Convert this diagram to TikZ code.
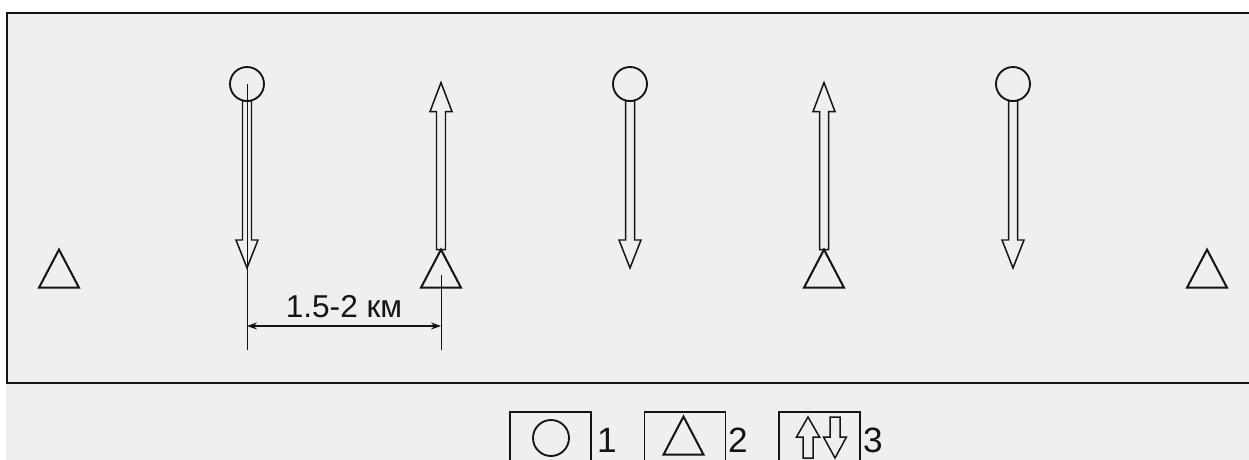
\documentclass[tikz,border=0pt]{standalone}
\usepackage{fontspec}
\setmainfont{Liberation Sans}
\usepackage{xcolor}
\usetikzlibrary{arrows.meta,positioning,shapes.geometric}
\definecolor{panel}{HTML}{EFEFEF}
\definecolor{ink}{HTML}{141414}
\tikzset{
    every picture/.style={line join=miter},
    frameline/.style={draw=ink,line width=1.2pt},
    wellhead/.style={draw=ink,circle,line width=1.05pt,
      minimum size=0.68cm,inner sep=0pt,outer sep=0pt},
    seismo/.style={draw=ink,regular polygon,regular polygon sides=3,
      line width=1.15pt,minimum size=0.924cm,inner sep=0pt,outer sep=0pt,yscale=1.1},
    hollow/.style={draw=ink,line width=0.85pt},
    legendbox/.style={draw=ink,line width=0.8pt,minimum width=1.62cm,
      minimum height=1.4cm,inner sep=0pt},
    dimline/.style={draw=ink,line width=0.55pt},
    dimarrow/.style={draw=ink,line width=0.65pt,
      {Stealth[length=2mm,width=1.4mm]}-{Stealth[length=2mm,width=1.4mm]}},
    dimlabel/.style={inner sep=0pt,text=ink,font=\fontsize{18}{21}\selectfont},
    legendnum/.style={inner sep=0pt,text=ink,font=\fontsize{20}{24}\selectfont},
    % hollow arrow: length / head length / head half width / shaft half width
    pics/hollowarrow/.style n args={4}{code={
      \draw[hollow] ({-#4},0) -- ({-#4},{#1-#2}) -- ({-#3},{#1-#2}) -- (0,#1)
        -- (#3,{#1-#2}) -- (#4,{#1-#2}) -- (#4,0) -- cycle;
    }}
}
\begin{document}
\begin{tikzpicture}[x=0.02cm,y=-0.02cm]
  \useasboundingbox (0,0) rectangle (1249,460);
  \clip (0,0) rectangle (1249,460);
  \fill[panel] (6,12) rectangle (1249,460);
  \draw[frameline] (1249,13) -- (7,13) -- (7,383) -- (1249,383);

  % wells with downward flow
  \foreach \i/\xx in {1/247,3/630,5/1013}{
    \node[wellhead] (w\i) at (\xx,84) {};
    \pic at (w\i.south) {hollowarrow={167}{28}{11}{4.5}};
  }
  % receivers with upward flow
  \foreach \i/\xx in {2/441,4/824}{
    \node[seismo] (s\i) at (\xx,275) {};
    \pic[rotate=180] at (s\i.north) {hollowarrow={167}{29}{11}{4.5}};
  }
  \node[seismo] (s0) at (59,275) {};
  \node[seismo] (s6) at (1207,275) {};

  % spacing
  \coordinate (e1) at (247,350);
  \coordinate (e2) at (441,350);
  \draw[dimline] (w1.center) -- (e1);
  \draw[dimline] (s2.center) -- (e2);
  \coordinate (a1) at (247,326);
  \coordinate (a2) at (441,326);
  \draw[dimarrow] (a1) -- node[dimlabel,above=0.16cm]{1.5-2 км} (a2);

  % legend
  \node[legendbox] (b1) at (550.5,447) {};
  \node[legendbox] (b2) at (685,447) {};
  \node[legendbox] (b3) at (819.5,447) {};
  \node[wellhead,minimum size=0.72cm] (lw) at (551,438) {};
  \node[seismo] (ls) at (683.5,442) {};
  \pic[rotate=180] at (808,458) {hollowarrow={41}{20}{11.5}{5}};
  \pic at (835,417) {hollowarrow={41}{21}{11.5}{5}};
  \node[legendnum,anchor=base] (n1) at (607,452) {1};
  \node[legendnum,anchor=base] (n2) at (738,452) {2};
  \node[legendnum,anchor=base] (n3) at (873,452) {3};
\end{tikzpicture}
\end{document}
